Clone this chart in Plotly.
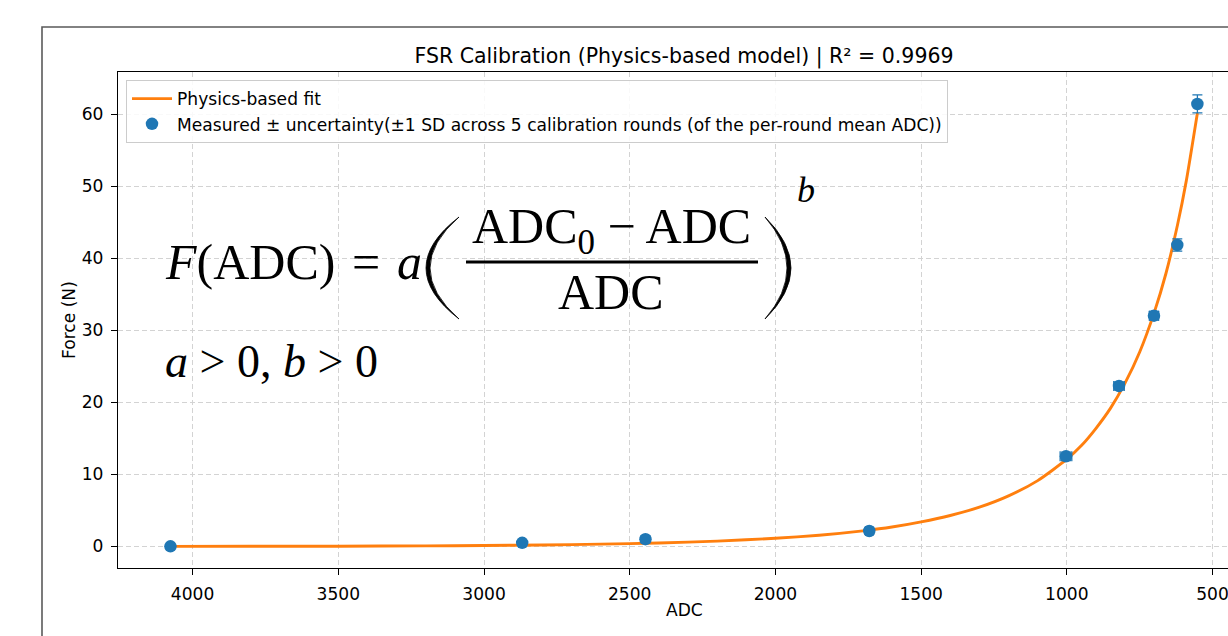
import plotly.graph_objects as go

# ---- data ----
adc = [4076, 2869, 2446, 1678, 1003, 821, 701, 621, 552]
force = [0.0, 0.49, 1.0, 2.13, 12.5, 22.27, 32.04, 41.86, 61.45]
force_sd = [0.05, 0.15, 0.5, 0.45, 0.6, 0.55, 0.6, 0.85, 1.25]
adc_sd = [6, 8, 10, 12, 20, 18, 16, 10, 8]

fit_adc = [4076, 3800, 3500, 3200, 3000, 2800, 2600, 2400, 2200, 2000, 1850, 1700,
           1600, 1500, 1400, 1300, 1200, 1100, 1000, 950, 900, 850, 800, 750, 700,
           660, 620, 590, 552]
fit_force = [0.0, 0.01, 0.02, 0.06, 0.11, 0.19, 0.30, 0.47, 0.73, 1.12, 1.54, 2.15,
             2.68, 3.40, 4.28, 5.43, 7.0, 9.13, 12.1, 14.0, 16.4, 19.2, 22.7, 27.0, 32.5,
             37.9, 44.7, 50.8, 60.2]

x_ticks = [4000, 3500, 3000, 2500, 2000, 1500, 1000, 500]
y_ticks = [0, 10, 20, 30, 40, 50, 60]

W, H = 1228, 636
L, R, T, B = 118, 1228, 72, 568  # plot area in pixels


def px(x):
    return (x - L) / (R - L)


def py(y):
    return (B - y) / (B - T)


BLUE = "#1f77b4"
ORANGE = "#ff7f0e"
SANS = "DejaVu Sans"
SERIF = "Liberation Serif"
FS = 17.1

fig = go.Figure()
fig.add_trace(go.Scatter(
    x=fit_adc, y=fit_force, mode="lines", name="Physics-based fit",
    line=dict(color=ORANGE, width=2.9, shape="spline", smoothing=0.6),
    legendgroup="a",
))
fig.add_trace(go.Scatter(
    x=adc, y=force, mode="markers",
    name="Measured ± uncertainty(±1 SD across 5 calibration rounds (of the per-round mean ADC))",
    marker=dict(color=BLUE, size=12.5, symbol="circle"),
    error_y=dict(type="data", array=force_sd, visible=True, color=BLUE, thickness=1.3, width=5),
    error_x=dict(type="data", array=adc_sd, visible=True, color=BLUE, thickness=1.3, width=5),
    legendgroup="b",
))

shapes = []
# outer figure frame (top & left edges visible)
shapes.append(dict(type="path", xref="paper", yref="paper",
                   path=f"M {px(42)},{py(700)} L {px(42)},{py(27)} L {px(1300)},{py(27)}",
                   line=dict(color="#5a5a5a", width=1.6)))


def paren(x_tip, x_out, x_in, y0, y1):
    cy = (y0 + y1) / 2
    cx_out = 2 * x_out - x_tip
    cx_in = 2 * x_in - x_tip
    return (f"M {px(x_tip)},{py(y0)} Q {px(cx_out)},{py(cy)} {px(x_tip)},{py(y1)} "
            f"Q {px(cx_in)},{py(cy)} {px(x_tip)},{py(y0)} Z")


shapes.append(dict(type="path", xref="paper", yref="paper",
                   path=paren(459, 426, 430, 217, 319),
                   fillcolor="black", line=dict(color="black", width=0.8)))
shapes.append(dict(type="path", xref="paper", yref="paper",
                   path=paren(765, 791, 787, 217, 319),
                   fillcolor="black", line=dict(color="black", width=0.8)))
# fraction bar
shapes.append(dict(type="line", xref="paper", yref="paper",
                   x0=px(466), x1=px(758), y0=py(262), y1=py(262),
                   line=dict(color="black", width=3)))

annotations = [
    dict(text="<i>F</i>(ADC)\u2004=\u2004<i>a</i>", x=px(163), y=py(262), xref="paper", yref="paper",
         xanchor="left", yanchor="middle", showarrow=False,
         font=dict(family=SERIF, size=50, color="black")),
    dict(text="ADC<sub>0</sub> − ADC", x=px(611), y=py(230), xref="paper", yref="paper",
         xanchor="center", yanchor="middle", showarrow=False,
         font=dict(family=SERIF, size=50, color="black")),
    dict(text="ADC", x=px(611), y=py(292), xref="paper", yref="paper",
         xanchor="center", yanchor="middle", showarrow=False,
         font=dict(family=SERIF, size=50, color="black")),
    dict(text="<i>b</i>", x=px(806), y=py(190), xref="paper", yref="paper",
         xanchor="center", yanchor="middle", showarrow=False,
         font=dict(family=SERIF, size=36, color="black")),
    dict(text="<i>a</i> > 0, <i>b</i> > 0", x=px(163), y=py(361), xref="paper", yref="paper",
         xanchor="left", yanchor="middle", showarrow=False,
         font=dict(family=SERIF, size=46, color="black")),
    dict(text="ADC", x=px(684), y=py(610), xref="paper", yref="paper",
         xanchor="center", yanchor="middle", showarrow=False,
         font=dict(family=SANS, size=FS, color="black")),
    dict(text="Force (N)", x=px(69), y=py(320), xref="paper", yref="paper",
         xanchor="center", yanchor="middle", showarrow=False, textangle=-90,
         font=dict(family=SANS, size=FS, color="black")),
]

fig.update_layout(
    width=W, height=H,
    margin=dict(l=L, r=W - R, t=T, b=H - B, pad=0),
    paper_bgcolor="white", plot_bgcolor="white",
    title=dict(text="FSR Calibration (Physics-based model) | R² = 0.9969",
               x=684 / W, xref="container", xanchor="center",
               y=1 - 56 / H, yref="container", yanchor="middle",
               font=dict(family=SANS, size=20.5, color="black")),
    font=dict(family=SANS, size=FS, color="black"),
    showlegend=True,
    legend=dict(x=px(126), y=py(80), xanchor="left", yanchor="top",
                bgcolor="rgba(255,255,255,0.85)", bordercolor="#cccccc", borderwidth=1,
                font=dict(family=SANS, size=FS, color="black"),
                tracegroupgap=0, traceorder="grouped", itemwidth=40),
    shapes=shapes,
    annotations=annotations,
)

fig.update_xaxes(
    range=[4256, 447], tickvals=x_ticks, ticktext=[str(v) for v in x_ticks],
    showline=True, linecolor="black", linewidth=1.3, mirror=True,
    ticks="outside", ticklen=6, tickwidth=1.3, tickcolor="black",
    showgrid=True, gridcolor="#d3d3d3", gridwidth=1, griddash="5px,3px",
    zeroline=False, tickfont=dict(family=SANS, size=FS, color="black"),
    ticklabelstandoff=4, ticklabeloverflow="allow",
)
fig.update_yaxes(
    range=[-3.01, 65.89], tickvals=y_ticks, ticktext=[str(v) for v in y_ticks],
    showline=True, linecolor="black", linewidth=1.3, mirror=False,
    ticks="outside", ticklen=6, tickwidth=1.3, tickcolor="black",
    showgrid=True, gridcolor="#d3d3d3", gridwidth=1, griddash="5px,3px",
    zeroline=False, tickfont=dict(family=SANS, size=FS, color="black"),
    ticklabelstandoff=4,
)

fig.write_html(
    "out.html",
    config={"displayModeBar": False},
    post_script="document.body.style.margin='0px';document.body.style.overflow='hidden';",
)
